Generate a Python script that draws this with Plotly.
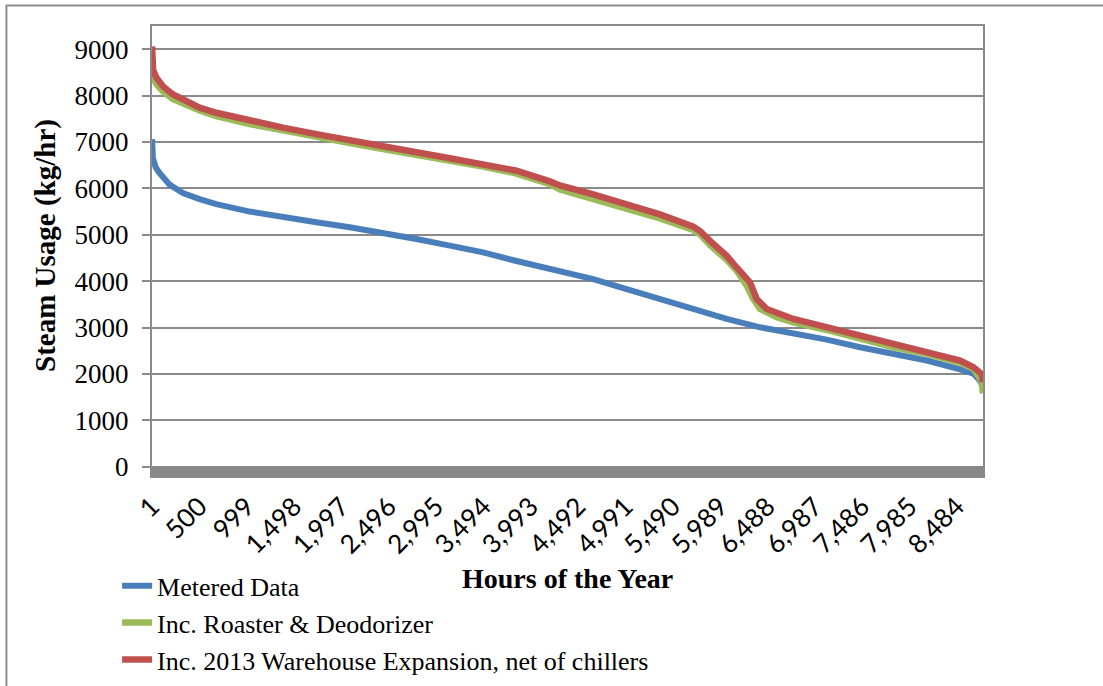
import plotly.graph_objects as go

# Steam load duration curves: hourly usage sorted from highest to lowest hour of the year
metered_hours = [1, 10, 40, 80, 186, 326, 502, 678, 1030, 1381, 1733, 2085, 2436,
                 2788, 3140, 3491, 3843, 4195, 4300, 4652, 5004, 5355, 5707, 6059,
                 6410, 6762, 7114, 7465, 7817, 8169, 8520, 8660, 8731, 8760]
metered_kg_hr = [7060, 6650, 6450, 6330, 6080, 5900, 5770, 5660, 5500, 5375, 5270,
                 5160, 5040, 4910, 4765, 4620, 4435, 4260, 4210, 4044, 3830, 3614,
                 3414, 3185, 3005, 2877, 2740, 2576, 2433, 2290, 2097, 2004, 1850, 1720]

roaster_hours = [1, 10, 45, 115, 218, 361, 502, 678, 1030, 1381, 1733, 2085, 2436,
                 2788, 3140, 3491, 3843, 4195, 4300, 4652, 5004, 5355, 5707, 5777,
                 5883, 6059, 6164, 6270, 6340, 6410, 6586, 6762, 7114, 7465, 7817,
                 8169, 8520, 8660, 8745, 8760]
roaster_kg_hr = [8550, 8400, 8250, 8090, 7930, 7790, 7680, 7560, 7385, 7250, 7100,
                 6975, 6845, 6725, 6600, 6470, 6320, 6090, 5976, 5776, 5561, 5354,
                 5103, 5010, 4774, 4459, 4223, 3900, 3614, 3400, 3220, 3113, 2948,
                 2755, 2576, 2433, 2240, 2111, 1850, 1580]

warehouse_hours = [1, 5, 12, 45, 115, 218, 361, 502, 678, 1030, 1381, 1733, 2085,
                   2436, 2788, 3140, 3491, 3843, 4195, 4300, 4652, 5004, 5355, 5707,
                   5777, 5883, 6059, 6164, 6305, 6375, 6481, 6762, 7114, 7465, 7817,
                   8169, 8520, 8660, 8745, 8760]
warehouse_kg_hr = [9060, 8800, 8560, 8390, 8200, 8030, 7870, 7740, 7630, 7455, 7310,
                   7170, 7030, 6900, 6780, 6650, 6520, 6380, 6150, 6062, 5869, 5654,
                   5440, 5175, 5082, 4867, 4545, 4294, 3972, 3614, 3400, 3185, 3005,
                   2827, 2626, 2469, 2290, 2147, 2000, 1825]

hour_ticks = [1, 500, 999, 1498, 1997, 2496, 2995, 3494, 3993, 4492, 4991, 5490,
              5989, 6488, 6987, 7486, 7985, 8484]
hour_tick_labels = ["1", "500", "999", "1,498", "1,997", "2,496", "2,995", "3,494",
                    "3,993", "4,492", "4,991", "5,490", "5,989", "6,488", "6,987",
                    "7,486", "7,985", "8,484"]
steam_ticks = [0, 1000, 2000, 3000, 4000, 5000, 6000, 7000, 8000, 9000]

series = [
    ("Metered Data", metered_hours, metered_kg_hr, "#4A7EBB", 6),
    ("Inc. Roaster & Deodorizer", roaster_hours, roaster_kg_hr, "#9BBB59", 6.5),
    ("Inc. 2013 Warehouse Expansion, net of chillers", warehouse_hours,
     warehouse_kg_hr, "#C0504D", 6.5),
]

SERIF = "Liberation Serif, Times New Roman, serif"
GRID = "#8a8a8a"

fig = go.Figure()
for name, hrs, vals, color, width in series:
    fig.add_trace(go.Scatter(
        x=hrs, y=vals, name=name, mode="lines",
        line=dict(color=color, width=width),
    ))

fig.update_layout(
    width=1103, height=686,
    margin=dict(l=152, r=120, t=26, b=210, autoexpand=False),
    paper_bgcolor="white", plot_bgcolor="white",
    showlegend=True,
    legend=dict(
        x=-0.042, y=-0.192, xanchor="left", yanchor="top",
        font=dict(family=SERIF, size=26, color="black"),
        bgcolor="rgba(0,0,0,0)", tracegroupgap=0,
    ),
    xaxis=dict(
        range=[0.5, 8760.5], automargin=False,
        tickmode="array", tickvals=hour_ticks, ticktext=hour_tick_labels,
        tickangle=-45, ticks="", ticklabelstandoff=3,
        tickfont=dict(family="Lato, Liberation Sans, sans-serif", size=26, color="black"),
        showgrid=False, zeroline=False,
        showline=True, linecolor=GRID, linewidth=2, mirror=True,
    ),
    yaxis=dict(
        range=[-200, 9500], automargin=False,
        tickmode="array", tickvals=steam_ticks,
        ticks="outside", ticklen=8, tickcolor=GRID, tickwidth=1.5,
        ticklabelstandoff=8,
        tickfont=dict(family=SERIF, size=27, color="black"),
        showgrid=True, gridcolor=GRID, gridwidth=1.5,
        zeroline=False,
        showline=True, linecolor=GRID, linewidth=2, mirror=True,
    ),
    shapes=[
        # dark floor band beneath the zero line
        dict(type="rect", xref="paper", yref="y", x0=0, x1=1, y0=-200, y1=0,
             fillcolor="#888888", line=dict(width=0), layer="above"),
        # outer chart frame
        dict(type="rect", xref="paper", yref="paper",
             x0=-0.1752, x1=1.6, y0=-1.0, y1=1.0455,
             line=dict(color="#8c8c8c", width=2), fillcolor="rgba(0,0,0,0)"),
    ],
    annotations=[
        dict(text="<b>Hours of the Year</b>", xref="paper", yref="paper",
             x=0.5, y=-0.227, xanchor="center", yanchor="middle", showarrow=False,
             font=dict(family=SERIF, size=28, color="black")),
        dict(text="<b>Steam Usage (kg/hr)</b>", xref="paper", yref="paper",
             x=-0.129, y=0.513, xanchor="center", yanchor="middle", showarrow=False,
             textangle=-90, font=dict(family=SERIF, size=29, color="black")),
    ],
)

fig.write_html("out.html")
